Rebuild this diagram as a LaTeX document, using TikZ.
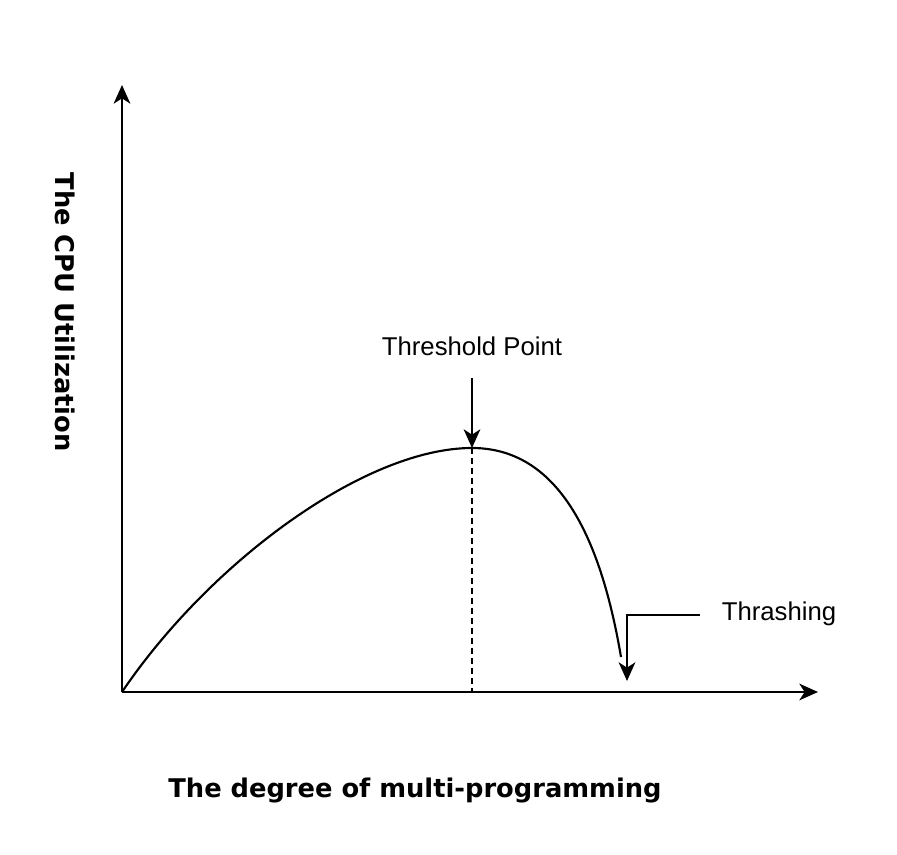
\documentclass[tikz,border=0pt]{standalone}
\usepackage{fontspec}
\setmainfont{Liberation Sans}
\newfontfamily\axisfont{DejaVu Sans}
\usetikzlibrary{arrows.meta}

\tikzset{every picture/.style={line width=0.75pt}}
\tikzset{
  arrowline/.style={line width=1.6pt, -{Stealth[length=14pt,width=12.5pt,inset=4pt]}},
  curveline/.style={line width=1.6pt},
  dashline/.style={line width=1.6pt, dash pattern=on 4.5pt off 3pt},
  plainlabel/.style={font=\fontsize{19.3}{23}\selectfont, inner sep=0pt},
  axislabel/.style={font=\axisfont\bfseries\fontsize{19.3}{23}\selectfont, inner sep=0pt}
}

\begin{document}
\begin{tikzpicture}[x=0.75pt,y=0.75pt,yscale=-1]
\useasboundingbox (0,0) rectangle (897,855);

%Points [id:origin]
\coordinate (origin) at (122,692);
\coordinate (ytop) at (122,85);
\coordinate (xend) at (818,692);
\coordinate (peak) at (472,448);
\coordinate (base) at (472,692);
\coordinate (drop) at (621,657);
\coordinate (peakarrow) at (472,378);
\coordinate (thrashstart) at (700,615);
\coordinate (thrashtip) at (627,681);

%Text Nodes
\node[plainlabel] (threshold) at (472,346) {Threshold Point};
\node[plainlabel] (thrashing) at (779,614) {Thrashing};
\node[axislabel] (xlabel) at (415,791) {The degree of multi-programming};
\node[axislabel, rotate=-90] (ylabel) at (65,312) {The CPU Utilization};

%Axes
\draw[arrowline] (origin) -- (ytop);
\draw[arrowline] (origin) -- (xend);

%Curve Lines
\draw[curveline] (origin) .. controls (210,562) and (365,448) .. (peak) .. controls (562,448) and (602,545) .. (drop);

%Dashed Line
\draw[dashline] (peak) -- (base);

%Pointers
\draw[arrowline] (peakarrow) -- (peak);
\draw[arrowline] (thrashstart) -| (thrashtip);

\end{tikzpicture}
\end{document}
